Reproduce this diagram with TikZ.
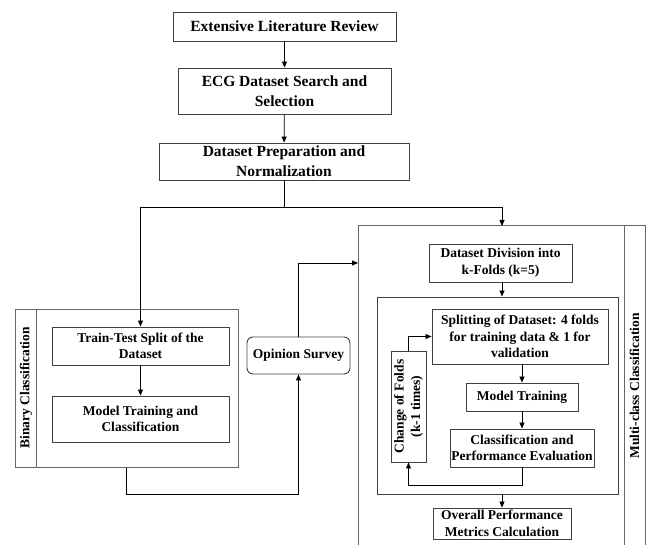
\documentclass[tikz,border=0pt]{standalone}
\usepackage{fontspec}
\setmainfont{Liberation Serif}
\usetikzlibrary{arrows.meta}

\begin{document}
\begin{tikzpicture}[x=1pt, y=-1pt,
	box/.style = {draw=black!75, line width=0.9pt, align=center, inner sep=1pt, font=\bfseries\fontsize{15.5}{20}\selectfont},
	inbox/.style = {box, font=\bfseries\fontsize{13.5}{16.5}\selectfont},
	lane/.style = {draw=black!60, line width=1pt},
	flow/.style = {-{Triangle[length=6pt,width=5pt]}, line width=0.8pt}]
	\useasboundingbox (0,0) rectangle (647,545);
	%top chain
	\node [box, minimum width=223pt, minimum height=29pt] (lit) at (284.5,26.5) {Extensive Literature Review};
	\node [box, minimum width=213pt, minimum height=46pt] (ecg) at (284.5,91) {ECG Dataset Search and\\Selection};
	\node [box, minimum width=250pt, minimum height=37pt] (prep) at (284,161.5) {Dataset Preparation and\\Normalization};
	
	%binary lane
	\node [lane, minimum width=223pt, minimum height=158pt] (bin) at (126.5,388) {};
	\draw [lane] ([xshift=22pt]bin.north west) -- ([xshift=22pt]bin.south west);
	\node [inbox, draw=none, rotate=90] (binlbl) at (26,388) {Binary Classification};
	\node [inbox, minimum width=177pt, minimum height=38pt] (tts) at (140.5,346) {Train-Test Split of the\\Dataset};
	\node [inbox, minimum width=177pt, minimum height=46pt] (mtc) at (140.5,419) {Model Training and\\Classification};
	
	%survey
	\node [inbox, rounded corners=6pt, minimum width=103pt, minimum height=37pt] (survey) at (298.5,355.5) {Opinion Survey};
	
	%multi-class lane (runs off the bottom)
	\coordinate (mtop) at (502,226);
	\coordinate (min) at (358,263);
	\draw [lane] (358,545) -- (358,226) -- (645,226) -- (645,545);
	\draw [lane] (624,226) -- (624,545);
	\node [inbox, draw=none, rotate=90] (multilbl) at (634.5,386) {Multi-class Classification};
	\node [inbox, minimum width=143pt, minimum height=38pt] (div) at (500.5,263) {Dataset Division into\\k-Folds (k=5)};
	\node [box, minimum width=241pt, minimum height=197pt] (inner) at (497.5,395.5) {};
	\node [inbox, minimum width=176pt, minimum height=55pt] (split) at (520,336.5) {Splitting of Dataset: 4 folds\\for training data \& 1 for\\validation};
	\node [inbox, minimum width=112pt, minimum height=28pt] (mtr) at (522,397) {Model Training};
	\node [inbox, minimum width=144pt, minimum height=38pt] (cpe) at (522,448) {Classification and\\Performance Evaluation};
	\node [box, minimum width=35pt, minimum height=111pt] (chg) at (408.5,406.5) {};
	\node [inbox, draw=none, rotate=90] (chglbl) at (chg) {Change of Folds\\(k-1 times)};
	\node [inbox, inner sep=0.5pt, minimum width=138pt, minimum height=31pt] (ovr) at (502,523.5) {Overall Performance\\Metrics Calculation};
	
	%connectors
	\draw [flow] (lit) -- (ecg);
	\draw [flow] (ecg) -- (prep);
	\coordinate (fork) at (prep.south |- 0,207);
	\draw [flow] (prep.south) -- (fork) -| (tts.north);
	\draw [flow] (fork) -| (mtop);
	\draw [flow] (tts) -- (mtc);
	\draw [flow] (bin.south) -- ++(0,27) -| (survey.south);
	\draw [flow] (survey.north) |- (min);
	\draw [flow] (div.south -| ovr.north) -- (inner.north -| ovr.north);
	\draw [flow] (split.south -| mtr.north) -- (mtr.north);
	\draw [flow] (mtr) -- (cpe);
	\draw [flow] (cpe.south) -- ++(0,18) -| (chg.south);
	\draw [flow] (chg.north) |- (split.west);
	\draw [flow] (inner.south -| ovr.north) -- (ovr.north);
\end{tikzpicture}
\end{document}
